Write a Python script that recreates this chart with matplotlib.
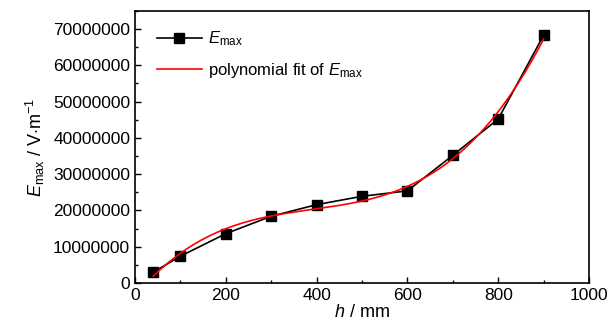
import numpy as np
import matplotlib
matplotlib.use('Agg')
import matplotlib.pyplot as plt
from matplotlib.ticker import MultipleLocator

plt.rcParams['font.family'] = ['Liberation Sans', 'DejaVu Sans']
plt.rcParams['mathtext.fontset'] = 'custom'
plt.rcParams['mathtext.rm'] = 'Liberation Sans'
plt.rcParams['mathtext.it'] = 'Liberation Sans:italic'

# data
h_mm = [40, 100, 200, 300, 400, 500, 600, 700, 800, 900]
e_max = [2.96e6, 7.4e6, 13.6e6, 18.4e6, 21.6e6, 23.9e6, 25.4e6, 35.2e6, 45.2e6, 68.3e6]

# polynomial fit of the data
coef = np.polyfit(h_mm, e_max, 3)
h_fit = np.linspace(min(h_mm), max(h_mm), 200)
e_fit = np.polyval(coef, h_fit)

fig = plt.figure(figsize=(6.11, 3.31), dpi=100)
ax = fig.add_axes([0.221, 0.145, 0.743, 0.822])

ax.plot(h_mm, e_max, color='black', linewidth=1.2, marker='s', markersize=6.5,
        label=r'$E_{\rm max}$')
ax.plot(h_fit, e_fit, color='red', linewidth=1.2,
        label=r'polynomial fit of $E_{\rm max}$')

ax.set_xlim(0, 1000)
ax.set_ylim(0, 75000000)
ax.xaxis.set_major_locator(MultipleLocator(200))
ax.xaxis.set_minor_locator(MultipleLocator(100))
ax.yaxis.set_major_locator(MultipleLocator(10000000))
ax.yaxis.set_minor_locator(MultipleLocator(5000000))
ax.ticklabel_format(axis='y', style='plain', useOffset=False)
ax.tick_params(which='both', direction='in', top=False, right=False, labelsize=12.5)
ax.tick_params(which='major', length=4, width=1)
ax.tick_params(which='minor', length=2.5, width=1)
for s in ax.spines.values():
    s.set_linewidth(1.2)

ax.set_xlabel(r'$h$ / mm', fontsize=13, labelpad=1)
ax.set_ylabel(r'$E_{\rm max}$ / V$\cdot$m$^{-1}$', fontsize=13, labelpad=4)

ax.legend(loc='upper left', bbox_to_anchor=(0.022, 0.975), frameon=False,
          fontsize=12, handlelength=2.7, borderaxespad=0.3, labelspacing=0.75,
          handletextpad=0.4)

fig.savefig('out.png', dpi=100)
